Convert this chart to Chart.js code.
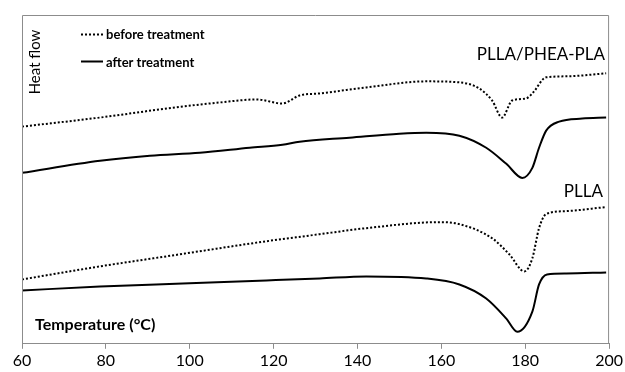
<!DOCTYPE html>
<html>
<head>
<meta charset="utf-8">
<script src="https://cdn.jsdelivr.net/npm/chart.js"></script>
<style>
    body { margin: 0; background: #fff; }
    #wrap { width: 625px; height: 372px; }
</style>
</head>
<body>
<div id="wrap"><canvas id="dsc"></canvas></div>
<script>
// --- DATA (heat flow in arbitrary units) ---
const xTicks = [60, 80, 100, 120, 140, 160, 180, 200];

const blendBeforeT = [60, 78.6, 94.5, 107.1, 116, 122.1, 126.2, 131, 142.1, 156.4, 164.3, 169, 172.1, 174.5, 176.9, 180.2, 181.7, 185, 189.8, 199.3];
const blendBefore  = [21.6, 22.5, 23.4, 24.0, 24.3, 23.9, 24.7, 24.9, 25.5, 26.1, 26.0, 25.4, 24.2, 22.5, 24.2, 24.4, 24.9, 26.5, 26.6, 26.9];

const blendAfterT = [60, 78.6, 90.5, 102.4, 114.3, 122.1, 126.2, 138.1, 150, 156.4, 164.3, 170.7, 175.5, 179.3, 181.7, 183.3, 185, 188.1, 193.6, 199.3];
const blendAfter  = [17.0, 18.2, 18.7, 19.0, 19.5, 19.8, 20.1, 20.5, 20.9, 21.0, 20.7, 19.5, 17.9, 16.5, 17.5, 19.5, 21.2, 22.1, 22.4, 22.5];

const pllaBeforeT = [60, 78.6, 94.5, 118.3, 131, 142.1, 159.5, 164.3, 172.1, 176.2, 179.8, 181.7, 183.3, 185, 189.8, 199.3];
const pllaBefore  = [6.4, 7.7, 8.7, 10.2, 10.9, 11.5, 12.1, 11.9, 10.5, 8.9, 7.2, 8.5, 11.5, 12.9, 13.2, 13.6];

const pllaAfterT = [60, 78.6, 98.3, 118.3, 131, 142.1, 156.4, 164.3, 170.7, 175.5, 178.1, 181.7, 183.3, 185.2, 189.8, 199.3];
const pllaAfter  = [5.3, 5.7, 6.0, 6.3, 6.5, 6.7, 6.5, 5.9, 4.5, 2.5, 1.2, 3.2, 5.9, 6.9, 7.0, 7.1];

const FONT = 'Lato, "Liberation Sans", sans-serif';

function pts(xs, ys) { return xs.map((x, i) => ({ x: x, y: ys[i] })); }

function curve(label, xs, ys, dotted) {
    return {
        label: label,
        data: pts(xs, ys),
        borderColor: '#000',
        borderWidth: 2,
        borderDash: dotted ? [2, 2] : [],
        pointRadius: 0,
        cubicInterpolationMode: 'monotone',
        fill: false
    };
}

// frame + annotations drawn straight on the canvas
const extras = {
    id: 'extras',
    afterDraw(chart) {
        const c = chart.ctx, a = chart.chartArea;
        c.save();
        c.strokeStyle = '#8c8c8c';
        c.lineWidth = 1;
        c.beginPath();
        c.moveTo(a.left + 0.5, a.bottom);
        c.lineTo(a.left + 0.5, a.top + 0.5);
        c.lineTo(a.right - 0.5, a.top + 0.5);
        c.lineTo(a.right - 0.5, a.bottom);
        c.stroke();

        c.fillStyle = '#000';
        c.textBaseline = 'middle';

        // legend
        c.strokeStyle = '#000';
        c.lineWidth = 2;
        c.setLineDash([2, 2]);
        c.beginPath(); c.moveTo(81, 34.5); c.lineTo(103, 34.5); c.stroke();
        c.setLineDash([]);
        c.beginPath(); c.moveTo(81, 61.5); c.lineTo(103, 61.5); c.stroke();
        c.font = 'bold 13px ' + FONT;
        c.textAlign = 'left';
        c.fillText('before treatment', 106, 35);
        c.fillText('after treatment', 106, 63);

        // sample names
        c.font = '17px ' + FONT;
        c.textAlign = 'right';
        c.fillText('PLLA/PHEA-PLA', 605, 55);
        c.fillText('PLLA', 603, 192);

        // axis names
        c.font = 'bold 16px ' + FONT;
        c.textAlign = 'left';
        c.fillText('Temperature (°C)', 35, 325);

        c.font = '15px ' + FONT;
        c.translate(35, 62);
        c.rotate(-Math.PI / 2);
        c.textAlign = 'center';
        c.fillText('Heat flow', 0, 0);
        c.restore();
    }
};

new Chart(document.getElementById('dsc'), {
    type: 'line',
    data: {
        datasets: [
            curve('PLLA/PHEA-PLA before treatment', blendBeforeT, blendBefore, true),
            curve('PLLA/PHEA-PLA after treatment', blendAfterT, blendAfter, false),
            curve('PLLA before treatment', pllaBeforeT, pllaBefore, true),
            curve('PLLA after treatment', pllaAfterT, pllaAfter, false)
        ]
    },
    options: {
        responsive: true,
        maintainAspectRatio: false,
        animation: false,
        layout: { padding: { left: 22, right: 15, top: 15, bottom: 0 } },
        plugins: { legend: { display: false }, tooltip: { enabled: false } },
        scales: {
            x: {
                type: 'linear',
                min: 60,
                max: 200,
                afterBuildTicks: axis => { axis.ticks = xTicks.map(v => ({ value: v })); },
                grid: { drawOnChartArea: false, drawTicks: true, tickLength: 5, color: '#8c8c8c' },
                border: { color: '#8c8c8c' },
                ticks: { color: '#000', font: { size: 16, family: FONT }, padding: 2, maxRotation: 0 }
            },
            y: {
                display: false,
                min: 0,
                max: 32.7
            }
        }
    },
    plugins: [extras]
});
</script>
</body>
</html>
